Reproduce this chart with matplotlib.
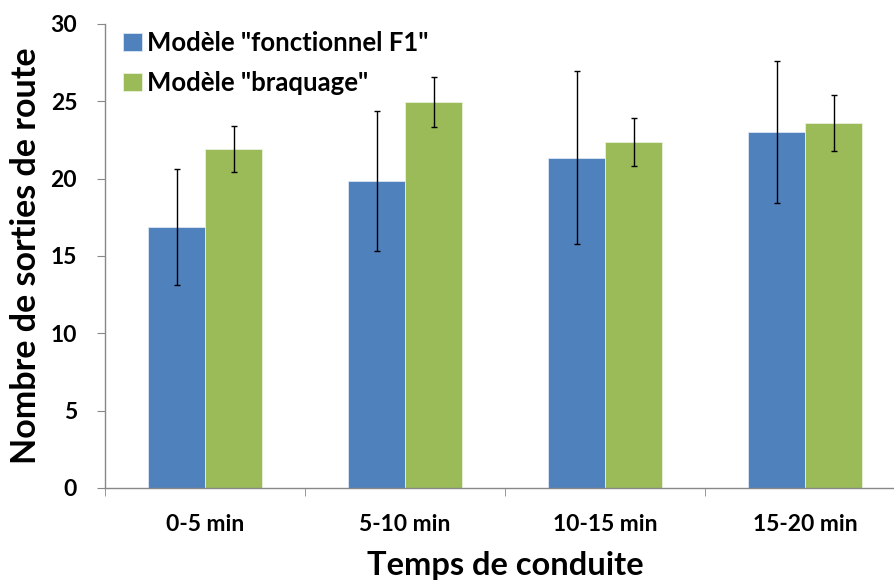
import matplotlib.pyplot as plt
import numpy as np

plt.rcParams['font.family'] = ['Lato', 'DejaVu Sans']

# data
categories = ["0-5 min", "5-10 min", "10-15 min", "15-20 min"]
f1_values = [16.9, 19.85, 21.35, 23.0]
f1_errors = [3.75, 4.5, 5.6, 4.6]
braq_values = [21.9, 24.95, 22.4, 23.6]
braq_errors = [1.5, 1.6, 1.55, 1.8]
series_names = ['Modèle "fonctionnel F1"', 'Modèle "braquage"']

fig = plt.figure(figsize=(8.94, 5.8), dpi=100)
ax = fig.add_axes([105 / 894, 1 - 488 / 580, 800 / 894, 464 / 580])

x = np.arange(len(categories))
width = 0.285
err_style = dict(ecolor="black", elinewidth=1, capsize=2.3, capthick=1)

ax.bar(x - width / 2, f1_values, width, color="#4F81BD", edgecolor="#dce6f2",
       linewidth=0.6, label=series_names[0], yerr=f1_errors, error_kw=err_style)
ax.bar(x + width / 2, braq_values, width, color="#9BBB59", edgecolor="#ebf1de",
       linewidth=0.6, label=series_names[1], yerr=braq_errors, error_kw=err_style)

ax.set_xlim(-0.5, 3.5)
ax.set_ylim(0, 30)
ax.set_yticks(range(0, 31, 5))
ax.set_xticks(x)
ax.set_xticklabels(categories, fontsize=16.5, fontweight="bold")
ax.tick_params(axis="y", labelsize=16.5, length=6, color="#888888", pad=14)
for lbl in ax.get_yticklabels():
    lbl.set_fontweight("bold")
ax.tick_params(axis="x", length=0, pad=19)

# category separator ticks on the x axis
ax.set_xticks(np.arange(-0.5, 4, 1), minor=True)
ax.tick_params(axis="x", which="minor", length=6, color="#888888")

for side in ["top", "right"]:
    ax.spines[side].set_visible(False)
for side in ["left", "bottom"]:
    ax.spines[side].set_color("#888888")
    ax.spines[side].set_linewidth(1)

ax.set_ylabel("Nombre de sorties de route", fontsize=24.5, fontweight="bold", labelpad=6)
ax.set_xlabel("Temps de conduite", fontsize=23.5, fontweight="bold", labelpad=11)

ax.legend(loc="upper left", bbox_to_anchor=(-0.006, 1.035), frameon=False,
          prop={"size": 18.5, "weight": "bold"}, handlelength=0.72, handleheight=0.72,
          handletextpad=0.22, labelspacing=0.62)

fig.savefig("out.png", dpi=100)
